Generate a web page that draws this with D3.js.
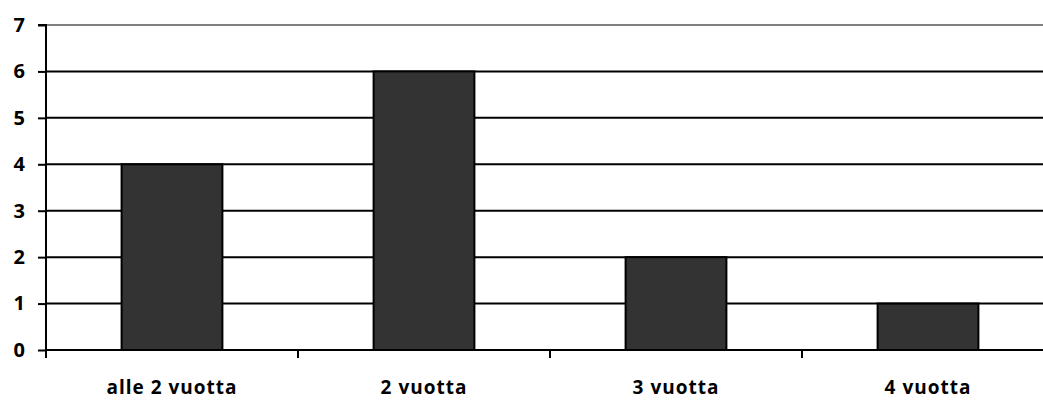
<!DOCTYPE html>
<html><head><meta charset="utf-8">
<script src="https://cdn.jsdelivr.net/npm/d3@7"></script>
<style>body{margin:0;background:#fff}svg{display:block}</style>
</head><body>
<svg id="c" width="1043" height="403"></svg>
<script>
const categories = ["alle 2 vuotta", "2 vuotta", "3 vuotta", "4 vuotta"];
const values = [4, 6, 2, 1];
const yTicks = [0, 1, 2, 3, 4, 5, 6, 7];

(function () {
const svg = d3.select("#c");
const mLeft = 46, mRight = 1054, mTop = 25, mBottom = 350;
const font = "'Open Sans', sans-serif";

const x = d3.scaleBand().domain(categories).range([mLeft, mRight]).padding(0);
const y = d3.scaleLinear().domain([0, 7]).range([mBottom, mTop]);

// gridlines
svg.append("g").selectAll("line").data(yTicks.filter(d => d > 0)).join("line")
  .attr("x1", mLeft).attr("x2", mRight)
  .attr("y1", d => y(d)).attr("y2", d => y(d))
  .attr("stroke", d => d === 7 ? "#808080" : "#000").attr("stroke-width", 2);

// bars
const bw = x.bandwidth() * 0.4;
svg.append("g").selectAll("rect").data(values).join("rect")
  .attr("x", (d, i) => x(categories[i]) + (x.bandwidth() - bw) / 2)
  .attr("y", d => y(d))
  .attr("width", bw)
  .attr("height", d => y(0) - y(d))
  .attr("fill", "#333333").attr("stroke", "#000").attr("stroke-width", 2);

// y axis
const ya = svg.append("g").attr("transform", `translate(${mLeft},0)`)
  .call(d3.axisLeft(y).tickValues(yTicks).tickSize(8).tickPadding(13).tickFormat(d3.format("d")));
ya.select(".domain").attr("stroke", "#000").attr("stroke-width", 2).attr("d", `M-8,${mTop}H0V${mBottom}`);
ya.selectAll(".tick line").attr("stroke", "#000").attr("stroke-width", 2);
ya.selectAll("text").attr("font-family", font).attr("font-weight", "bold").attr("font-size", 20).attr("fill", "#000");

// x axis
const xa = svg.append("g").attr("transform", `translate(0,${mBottom})`)
  .call(d3.axisBottom(x).tickSize(0).tickPadding(31));
xa.select(".domain").attr("stroke", "#000").attr("stroke-width", 2).attr("d", `M${mLeft},0H${mRight}`);
xa.selectAll("text").attr("font-family", font).attr("font-weight", "bold").attr("font-size", 19)
  .attr("letter-spacing", 1).attr("fill", "#000");

// category boundary ticks
svg.append("g").selectAll("line").data(categories).join("line")
  .attr("x1", d => x(d)).attr("x2", d => x(d))
  .attr("y1", mBottom).attr("y2", mBottom + 8)
  .attr("stroke", "#000").attr("stroke-width", 2);
})();
</script>
</body></html>
